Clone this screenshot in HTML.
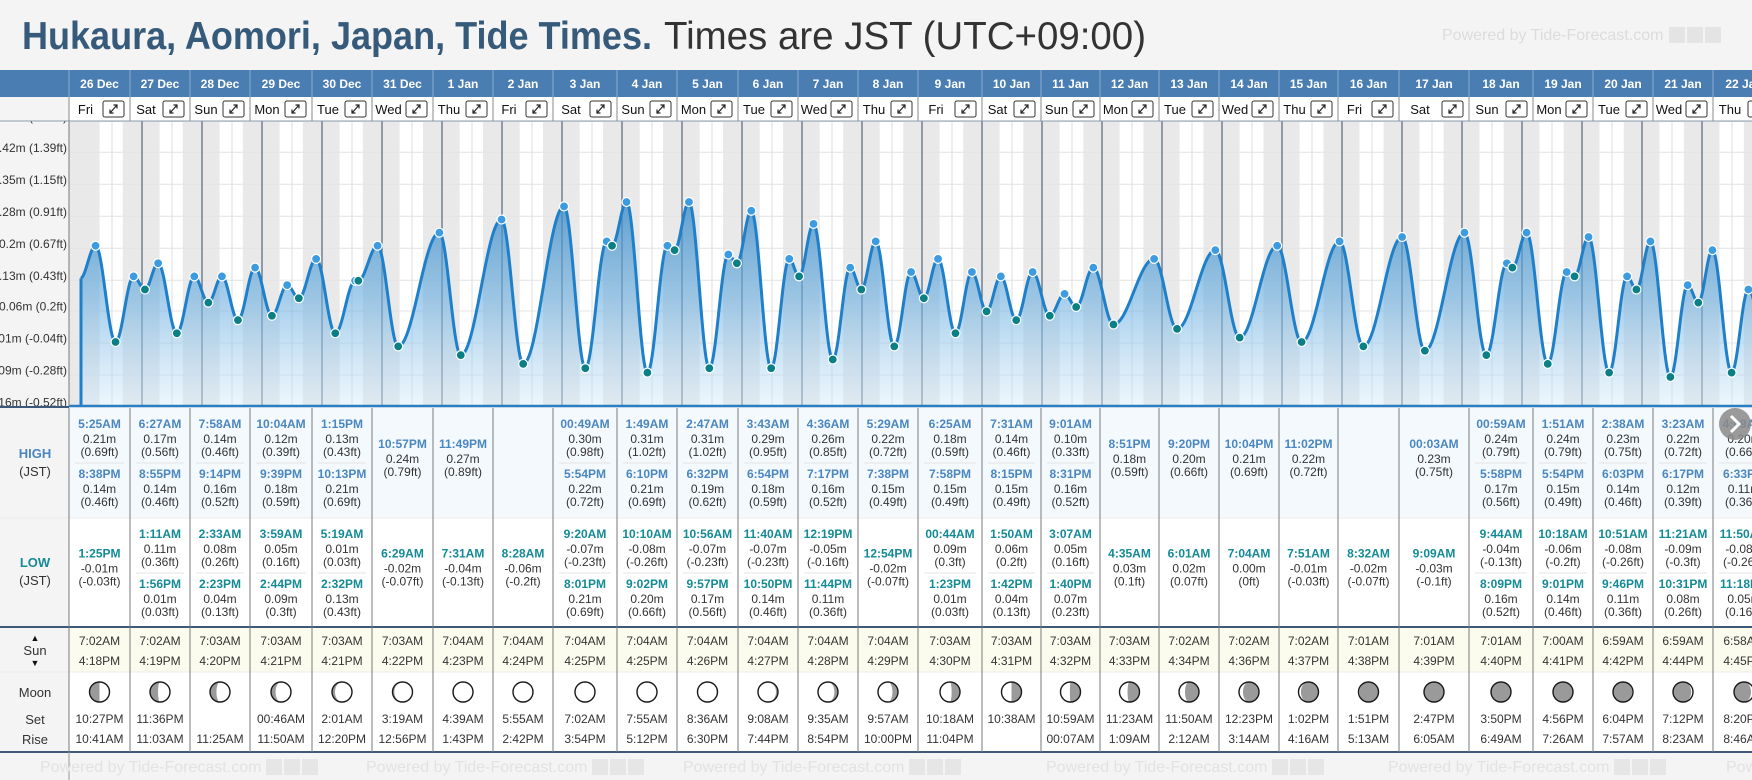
<!DOCTYPE html>
<html><head><meta charset="utf-8"><title>Hukaura Tide Times</title>
<style>
html,body{margin:0;padding:0;background:#f4f4f4;width:1752px;height:780px;overflow:hidden;font-family:"Liberation Sans",Arial,sans-serif;}
svg{display:block}
</style></head>
<body>
<svg id="root" width="1752" height="780" viewBox="0 0 1752 780" xmlns="http://www.w3.org/2000/svg" font-family="Liberation Sans, Arial, sans-serif">
<defs>
<linearGradient id="areaGrad" gradientUnits="userSpaceOnUse" x1="0" y1="170" x2="0" y2="406">
<stop offset="0" stop-color="#2a7fc0" stop-opacity="0.85"/>
<stop offset="0.55" stop-color="#6aaee0" stop-opacity="0.6"/>
<stop offset="1" stop-color="#d6ebfa" stop-opacity="0.45"/>
</linearGradient>
<clipPath id="chartClip"><rect x="69" y="121" width="1683" height="285"/></clipPath>
<clipPath id="yClip"><rect x="0" y="121" width="69" height="286"/></clipPath>
</defs>
<rect x="0" y="0" width="1752" height="780" fill="#f4f4f4"/>
<text x="22" y="49" font-size="39" font-weight="bold" fill="#365a7a" textLength="630" lengthAdjust="spacingAndGlyphs">Hukaura, Aomori, Japan, Tide Times.</text>
<text x="664" y="49" font-size="39" fill="#333" textLength="482" lengthAdjust="spacingAndGlyphs">Times are JST (UTC+09:00)</text>
<g id="topPowered">
<text x="1442" y="40" font-size="16" fill="#dcdcdc">Powered by Tide-Forecast.com</text>
<rect x="1669" y="27" width="16" height="16" fill="#e4e4e4"/><rect x="1687" y="27" width="16" height="16" fill="#e4e4e4"/><rect x="1705" y="27" width="16" height="16" fill="#e4e4e4"/>
</g>
<g id="chartG"></g>
<g id="tableG"></g>
</svg>
<script>
const NS='http://www.w3.org/2000/svg';
const days=['26 Dec','27 Dec','28 Dec','29 Dec','30 Dec','31 Dec','1 Jan','2 Jan','3 Jan','4 Jan','5 Jan','6 Jan','7 Jan','8 Jan','9 Jan','10 Jan','11 Jan','12 Jan','13 Jan','14 Jan','15 Jan','16 Jan','17 Jan','18 Jan','19 Jan','20 Jan','21 Jan','22 Jan'];
const weekdays=['Fri','Sat','Sun','Mon','Tue','Wed','Thu','Fri','Sat','Sun','Mon','Tue','Wed','Thu','Fri','Sat','Sun','Mon','Tue','Wed','Thu','Fri','Sat','Sun','Mon','Tue','Wed','Thu'];
const highs=[
[["5:25AM",0.21,"0.69"],["8:38PM",0.14,"0.46"]],
[["6:27AM",0.17,"0.56"],["8:55PM",0.14,"0.46"]],
[["7:58AM",0.14,"0.46"],["9:14PM",0.16,"0.52"]],
[["10:04AM",0.12,"0.39"],["9:39PM",0.18,"0.59"]],
[["1:15PM",0.13,"0.43"],["10:13PM",0.21,"0.69"]],
[["10:57PM",0.24,"0.79"]],
[["11:49PM",0.27,"0.89"]],
[],
[["00:49AM",0.30,"0.98"],["5:54PM",0.22,"0.72"]],
[["1:49AM",0.31,"1.02"],["6:10PM",0.21,"0.69"]],
[["2:47AM",0.31,"1.02"],["6:32PM",0.19,"0.62"]],
[["3:43AM",0.29,"0.95"],["6:54PM",0.18,"0.59"]],
[["4:36AM",0.26,"0.85"],["7:17PM",0.16,"0.52"]],
[["5:29AM",0.22,"0.72"],["7:38PM",0.15,"0.49"]],
[["6:25AM",0.18,"0.59"],["7:58PM",0.15,"0.49"]],
[["7:31AM",0.14,"0.46"],["8:15PM",0.15,"0.49"]],
[["9:01AM",0.10,"0.33"],["8:31PM",0.16,"0.52"]],
[["8:51PM",0.18,"0.59"]],
[["9:20PM",0.20,"0.66"]],
[["10:04PM",0.21,"0.69"]],
[["11:02PM",0.22,"0.72"]],
[],
[["00:03AM",0.23,"0.75"]],
[["00:59AM",0.24,"0.79"],["5:58PM",0.17,"0.56"]],
[["1:51AM",0.24,"0.79"],["5:54PM",0.15,"0.49"]],
[["2:38AM",0.23,"0.75"],["6:03PM",0.14,"0.46"]],
[["3:23AM",0.22,"0.72"],["6:17PM",0.12,"0.39"]],
[["4:09AM",0.20,"0.66"],["6:33PM",0.11,"0.36"]]
];
const lows=[
[["1:25PM",-0.01,"-0.03"]],
[["1:11AM",0.11,"0.36"],["1:56PM",0.01,"0.03"]],
[["2:33AM",0.08,"0.26"],["2:23PM",0.04,"0.13"]],
[["3:59AM",0.05,"0.16"],["2:44PM",0.09,"0.3"]],
[["5:19AM",0.01,"0.03"],["2:32PM",0.13,"0.43"]],
[["6:29AM",-0.02,"-0.07"]],
[["7:31AM",-0.04,"-0.13"]],
[["8:28AM",-0.06,"-0.2"]],
[["9:20AM",-0.07,"-0.23"],["8:01PM",0.21,"0.69"]],
[["10:10AM",-0.08,"-0.26"],["9:02PM",0.20,"0.66"]],
[["10:56AM",-0.07,"-0.23"],["9:57PM",0.17,"0.56"]],
[["11:40AM",-0.07,"-0.23"],["10:50PM",0.14,"0.46"]],
[["12:19PM",-0.05,"-0.16"],["11:44PM",0.11,"0.36"]],
[["12:54PM",-0.02,"-0.07"]],
[["00:44AM",0.09,"0.3"],["1:23PM",0.01,"0.03"]],
[["1:50AM",0.06,"0.2"],["1:42PM",0.04,"0.13"]],
[["3:07AM",0.05,"0.16"],["1:40PM",0.07,"0.23"]],
[["4:35AM",0.03,"0.1"]],
[["6:01AM",0.02,"0.07"]],
[["7:04AM",0.00,"0"]],
[["7:51AM",-0.01,"-0.03"]],
[["8:32AM",-0.02,"-0.07"]],
[["9:09AM",-0.03,"-0.1"]],
[["9:44AM",-0.04,"-0.13"],["8:09PM",0.16,"0.52"]],
[["10:18AM",-0.06,"-0.2"],["9:01PM",0.14,"0.46"]],
[["10:51AM",-0.08,"-0.26"],["9:46PM",0.11,"0.36"]],
[["11:21AM",-0.09,"-0.3"],["10:31PM",0.08,"0.26"]],
[["11:50AM",-0.08,"-0.26"],["11:18PM",0.05,"0.16"]]
];
const sunrise=['7:02AM','7:02AM','7:03AM','7:03AM','7:03AM','7:03AM','7:04AM','7:04AM','7:04AM','7:04AM','7:04AM','7:04AM','7:04AM','7:04AM','7:03AM','7:03AM','7:03AM','7:03AM','7:02AM','7:02AM','7:02AM','7:01AM','7:01AM','7:01AM','7:00AM','6:59AM','6:59AM','6:58AM'];
const sunset=['4:18PM','4:19PM','4:20PM','4:21PM','4:21PM','4:22PM','4:23PM','4:24PM','4:25PM','4:25PM','4:26PM','4:27PM','4:28PM','4:29PM','4:30PM','4:31PM','4:32PM','4:33PM','4:34PM','4:36PM','4:37PM','4:38PM','4:39PM','4:40PM','4:41PM','4:42PM','4:44PM','4:45PM'];
const moonset=['10:27PM','11:36PM','','00:46AM','2:01AM','3:19AM','4:39AM','5:55AM','7:02AM','7:55AM','8:36AM','9:08AM','9:35AM','9:57AM','10:18AM','10:38AM','10:59AM','11:23AM','11:50AM','12:23PM','1:02PM','1:51PM','2:47PM','3:50PM','4:56PM','6:04PM','7:12PM','8:20PM'];
const moonrise=['10:41AM','11:03AM','11:25AM','11:50AM','12:20PM','12:56PM','1:43PM','2:42PM','3:54PM','5:12PM','6:30PM','7:44PM','8:54PM','10:00PM','11:04PM','','00:07AM','1:09AM','2:12AM','3:14AM','4:16AM','5:13AM','6:05AM','6:49AM','7:26AM','7:57AM','8:23AM','8:46AM'];
const moonIllum=[0.5,0.6,0.68,0.77,0.85,0.91,0.96,0.99,1,1,0.96,0.9,0.82,0.72,0.58,0.5,0.47,0.4,0.3,0.2,0.12,0.05,0.01,0,0.01,0.04,0.09,0.15];
const moonWaxing=[1,1,1,1,1,1,1,1,0,0,0,0,0,0,0,0,0,0,0,0,0,0,0,0,1,1,1,1];
const yTickM=['-0.16m','-0.09m','-0.01m','0.06m','0.13m','0.2m','0.28m','0.35m','0.42m','0.49m'];
const yTickFt=[-0.52,-0.28,-0.04,0.2,0.43,0.67,0.91,1.15,1.39,1.62];
const startLevel=[-0.03,0.135];

const colEdges=[69,130,190,250,312,372,433,493,553,617,677,738,798,858,918,982,1041,1100,1159,1219,1279,1338,1399,1469,1533,1593,1653,1713,1775];
const X0=82, DAYW=60, TOP=121, BOT=406;
function xOf(t){return X0+t*DAYW;}
function yOf(v){return 237-(v-0.23)*437.5;}
function parseT(s){const m=s.match(/(\d+):(\d+)(AM|PM)/);let h=(+m[1])%12;if(m[3]==='PM')h+=12;return (h+(+m[2])/60)/24;}
function mk(tag,attrs,parent,txt){const e=document.createElementNS(NS,tag);for(const k in attrs)e.setAttribute(k,attrs[k]);if(txt!==undefined)e.textContent=txt;parent.appendChild(e);return e;}

const chart=document.getElementById('chartG');
const table=document.getElementById('tableG');

const yAxis=mk('g',{'clip-path':'url(#yClip)'},chart);


for(let i=0;i<yTickM.length;i++){
  const gy=yOf(yTickFt[i]*0.3048);
  const lab=mk('text',{x:67,y:gy-0.5,'font-size':12,fill:'#333','text-anchor':'end'},yAxis,yTickM[i]+' ('+yTickFt[i]+'ft)');
  
  
}
const plot=mk('g',{'clip-path':'url(#chartClip)'},chart);


mk('rect',{x:69,y:TOP,width:1683,height:BOT-TOP,fill:'#e9e9e9'},plot);
for(let d=0;d<days.length;d++){
  const a=xOf(d+parseT(sunrise[d])), b=xOf(d+parseT(sunset[d]));
  const band=mk('rect',{x:a,y:TOP,width:b-a,height:BOT-TOP,fill:'#ffffff'},plot);
  
  
}
for(let i=0;i<yTickFt.length;i++){
  const gy=yOf(yTickFt[i]*0.3048);
  const gl=mk('line',{x1:69,x2:1752,y1:gy,y2:gy,stroke:'#e4e4e4','stroke-width':1},plot);
  
  
}
for(let d=0;d<=days.length;d++){
  const nx=xOf(d+0.5);
  mk('line',{x1:nx,x2:nx,y1:TOP,y2:BOT,stroke:'#dedede','stroke-width':1},plot);
  if(d>0){
    const mx=xOf(d);
    const ml=mk('line',{x1:mx,x2:mx,y1:TOP,y2:BOT,stroke:'#55677a','stroke-width':1.2},plot);
    
    
  }
}
const ext=[{t:startLevel[0],v:startLevel[1],hi:0,start:1}];
for(let d=0;d<days.length;d++){
  highs[d].forEach(h=>ext.push({t:d+parseT(h[0]),v:h[1],hi:1}));
  lows[d].forEach(l=>ext.push({t:d+parseT(l[0]),v:l[1],hi:0}));
}
ext.sort((a,b)=>a.t-b.t);
function level(t){
  if(t<=ext[0].t)return ext[0].v;
  for(let i=0;i<ext.length-1;i++){
    const a=ext[i],b=ext[i+1];
    if(t>=a.t&&t<=b.t){const f=(t-a.t)/(b.t-a.t);return a.v+(b.v-a.v)*(1-Math.cos(Math.PI*f))/2;}
  }
  return ext[ext.length-1].v;
}
let pts=[];
for(let px=81;px<=1754;px+=1){pts.push([px,yOf(level((px-X0)/DAYW))]);}
let dl='M'+pts.map(p=>p[0]+','+p[1].toFixed(2)).join(' L');
const area=mk('path',{d:'M81,'+BOT+' L'+pts.map(p=>p[0]+','+p[1].toFixed(2)).join(' L')+' L1754,'+BOT+' Z',fill:'url(#areaGrad)'},plot);


const line=mk('path',{d:dl,fill:'none',stroke:'#1f80c9','stroke-width':3,'stroke-linejoin':'round'},plot);


mk('line',{x1:81,x2:81,y1:pts[0][1],y2:BOT,stroke:'#1f80c9','stroke-width':3},plot);
ext.forEach(e=>{
  if(e.start)return;
  const c=mk('circle',{cx:xOf(e.t),cy:yOf(e.v),r:4.5,fill:e.hi?'#3d9be0':'#0b7f86',stroke:'#fff','stroke-width':1.2},plot);
  
  
});
mk('line',{x1:69,x2:1752,y1:BOT,y2:BOT,stroke:'#2a7fc4','stroke-width':2.5},chart);
mk('line',{x1:69,x2:69,y1:TOP,y2:BOT,stroke:'#777','stroke-width':1},chart);

const hdr=mk('g',{},chart);


mk('rect',{x:0,y:70,width:1752,height:27,fill:'#4a7eb3'},hdr);
mk('rect',{x:69,y:97,width:1683,height:24,fill:'#ffffff'},hdr);
mk('line',{x1:0,x2:1752,y1:121,y2:121,stroke:'#8b9cb0','stroke-width':1},hdr);
for(let d=0;d<days.length;d++){
  const l=colEdges[d],r=colEdges[d+1],cx=(l+r)/2;
  const dt=mk('text',{x:cx,y:88,'font-size':12,'font-weight':'bold',fill:'#fff','text-anchor':'middle'},hdr,days[d]);
  
  
  mk('line',{x1:l,x2:l,y1:70,y2:97,stroke:'#8aaad0','stroke-width':1},hdr);
  mk('line',{x1:l,x2:l,y1:97,y2:121,stroke:'#8a8a8a','stroke-width':1},hdr);
  const wd=mk('text',{x:(l+r-28)/2,y:114,'font-size':13,fill:'#111','text-anchor':'middle'},hdr,weekdays[d]);
  
  
  const bx=r-27;
  const btn=mk('g',{},hdr);
  
  
  mk('rect',{x:bx,y:101,width:21,height:16,rx:2,fill:'#fff',stroke:'#333','stroke-width':1},btn);
  mk('path',{d:`M${bx+7},${113} L${bx+14},${105} M${bx+10.5},${105} L${bx+14},${105} L${bx+14},${108.5} M${bx+7},${109.5} L${bx+7},${113} L${bx+10.5},${113}`,stroke:'#222','stroke-width':1.2,fill:'none'},btn);
}

const rowBg=[[408,518,'#f4f9fd'],[518,627,'#ffffff'],[627,672,'#fcfcee'],[672,752,'#ffffff']];
rowBg.forEach(r=>mk('rect',{x:69,y:r[0],width:1683,height:r[1]-r[0],fill:r[2]},table));
mk('rect',{x:0,y:408,width:69,height:344,fill:'#f4f4f4'},table);
mk('line',{x1:0,x2:1752,y1:518,y2:518,stroke:'#ececec','stroke-width':1},table);
mk('line',{x1:0,x2:1752,y1:672,y2:672,stroke:'#ececec','stroke-width':1},table);
mk('line',{x1:0,x2:1752,y1:627,y2:627,stroke:'#3d5878','stroke-width':2},table);
mk('line',{x1:0,x2:1752,y1:752,y2:752,stroke:'#3d5878','stroke-width':2},table);
mk('line',{x1:0,x2:69,y1:407,y2:407,stroke:'#3d5878','stroke-width':2},table);
function lab(x,y,s,t,fs,fw,fill,name){const e=mk('text',{x:x,y:y,'font-size':fs,'font-weight':fw,fill:fill,'text-anchor':'middle'},table,t);return e;}
lab(35,458,0,'HIGH',13,'bold','#4a86c0','high-row-label');
lab(35,476,0,'(JST)',13,'normal','#333','high-row-unit');
lab(35,567,0,'LOW',13,'bold','#138a95','low-row-label');
lab(35,585,0,'(JST)',13,'normal','#333','low-row-unit');
lab(35,641,0,'▲',9,'normal','#111','sunrise-arrow');
lab(35,655,0,'Sun',13,'normal','#333','sun-row-label');
lab(35,666,0,'▼',9,'normal','#111','sunset-arrow');
lab(35,697,0,'Moon',13,'normal','#333','moon-row-label');
lab(35,724,0,'Set',13,'normal','#333','moonset-label');
lab(35,744,0,'Rise',13,'normal','#333','moonrise-label');

function entries(list,d,cx,l,r,topY,span,timeColor,kind){
  const n=list.length;
  let sets;
  if(n===1){const c=topY+span/2-15;sets=[[c,c+15,c+28]];}
  else sets=[[topY+20,topY+35,topY+48],[topY+70,topY+85,topY+98]];
  list.forEach((e,i)=>{
    const s=sets[i];
    lab(cx,s[0],0,e[0],12,'bold',timeColor,kind+'-time');
    lab(cx,s[1],0,e[1].toFixed(2)+'m',12,'normal','#333',kind+'-height-m');
    lab(cx,s[2],0,'('+e[2]+'ft)',12,'normal','#333',kind+'-height-ft');
  });
  if(n===2)mk('line',{x1:l+6,x2:r-6,y1:topY+55,y2:topY+55,stroke:'#e4e4e4','stroke-width':1},table);
}
function moonPath(cx,cy,r,k,wax){
  const rx=Math.abs(1-2*k)*r;
  if(wax){return `M${cx},${cy-r} A${r},${r} 0 0 0 ${cx},${cy+r} A${rx},${r} 0 0 ${k<0.5?0:1} ${cx},${cy-r} Z`;}
  return `M${cx},${cy-r} A${r},${r} 0 0 1 ${cx},${cy+r} A${rx},${r} 0 0 ${k<0.5?1:0} ${cx},${cy-r} Z`;
}
for(let d=0;d<days.length;d++){
  const l=colEdges[d],r=colEdges[d+1],cx=(l+r)/2;
  const cl=mk('line',{x1:l,x2:l,y1:408,y2:752,stroke:'#7a7a7a','stroke-width':1},table);
  
  
  entries(highs[d],d,cx,l,r,408,110,'#4a86c0','high-tide');
  entries(lows[d],d,cx,l,r,518,109,'#138a95','low-tide');
  lab(cx,645,0,sunrise[d],12,'normal','#333','sunrise-time');
  lab(cx,665,0,sunset[d],12,'normal','#333','sunset-time');
  const mg=mk('g',{},table);
  
  
  mk('circle',{cx:cx,cy:692,r:10,fill:'#fff'},mg);
  if(moonIllum[d]<0.995)mk('path',{d:moonPath(cx,692,10,moonIllum[d],moonWaxing[d]),fill:'#9a9a9a'},mg);
  mk('circle',{cx:cx,cy:692,r:10,fill:'none',stroke:'#1a1a1a','stroke-width':1.4},mg);
  if(moonset[d])lab(cx,723,0,moonset[d],12,'normal','#333','moonset-time');
  if(moonrise[d])lab(cx,743,0,moonrise[d],12,'normal','#333','moonrise-time');
}
mk('line',{x1:69,x2:69,y1:752,y2:780,stroke:'#999','stroke-width':1},table);
[40,366,683,1046,1388,1726].forEach(px=>{
  const g=mk('g',{},table);
  
  
  mk('text',{x:px,y:772,'font-size':16,fill:'#e2e2e2'},g,'Powered by Tide-Forecast.com');
  mk('rect',{x:px+226,y:759,width:16,height:16,fill:'#e6e6e6'},g);
  mk('rect',{x:px+244,y:759,width:16,height:16,fill:'#e6e6e6'},g);
  mk('rect',{x:px+262,y:759,width:16,height:16,fill:'#e6e6e6'},g);
});
const nb=mk('g',{},table);


mk('circle',{cx:1735,cy:424,r:16,fill:'#8a8a8a','fill-opacity':0.85},nb);
mk('path',{d:'M1731,416 L1739,424 L1731,432',stroke:'#fff','stroke-width':3,fill:'none'},nb);
</script>
</body></html>
